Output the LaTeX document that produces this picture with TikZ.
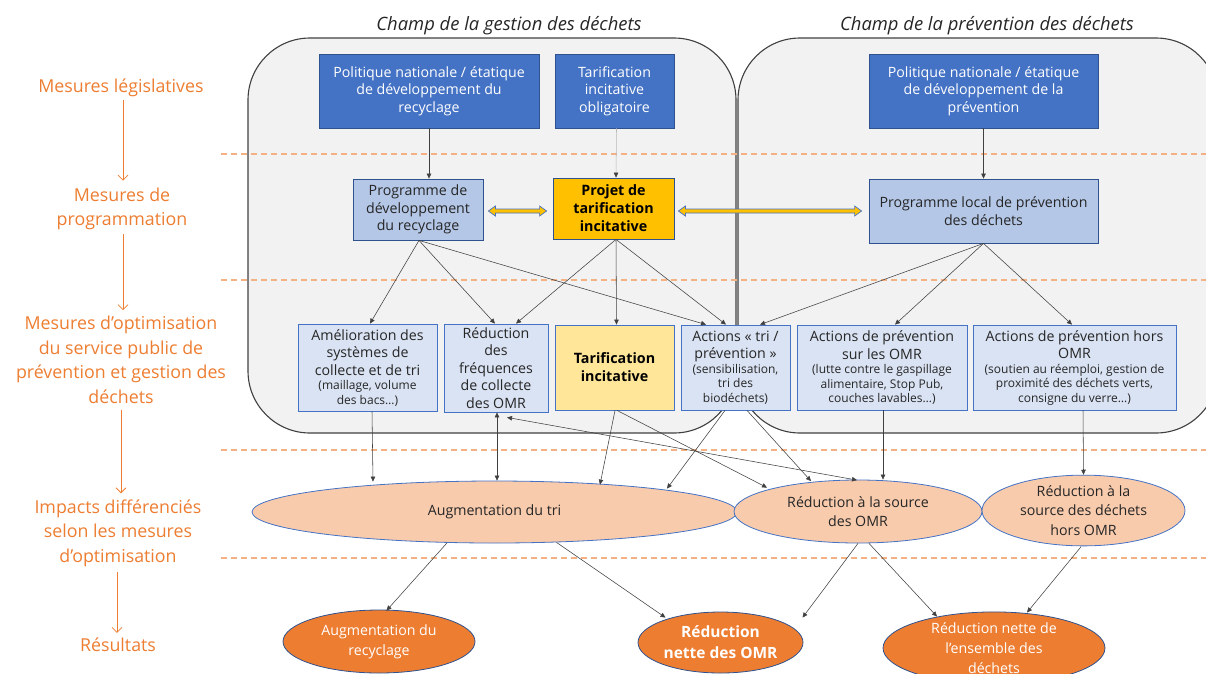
\documentclass[tikz,border=0pt]{standalone}
\usepackage{fontspec}
\setmainfont{Open Sans}
\usetikzlibrary{arrows.meta,calc,shapes.geometric}

\definecolor{dkblue}{HTML}{4472C4}
\definecolor{dkblueline}{HTML}{2F528F}
\definecolor{midblue}{HTML}{B4C7E7}
\definecolor{ltblue}{HTML}{DAE3F3}
\definecolor{gold}{HTML}{FFC000}
\definecolor{ltgold}{HTML}{FFE699}
\definecolor{peach}{HTML}{F8CBAD}
\definecolor{orng}{HTML}{ED7D31}
\definecolor{dashorng}{HTML}{F4B183}
\definecolor{panel}{HTML}{F2F2F2}
\definecolor{ink}{HTML}{262626}
\definecolor{wire}{HTML}{404040}

\newcommand\sm{\fontsize{12}{14.5}\selectfont}

\tikzset{
  box/.style={rectangle, inner sep=0pt, align=center, text=ink,
    font=\fontsize{14.2}{17.5}\selectfont, line width=0.8pt},
  policy/.style={box, fill=dkblue, draw=dkblueline, text=white},
  plan/.style={box, fill=midblue, draw=dkblueline},
  keyplan/.style={box, fill=gold, draw=dkblueline,
    font=\fontsize{14.3}{18}\selectfont\bfseries, text=black},
  action/.style={box, fill=ltblue, draw=dkblue},
  keyaction/.style={box, fill=ltgold, draw=dkblue,
    font=\fontsize{14.3}{18}\selectfont\bfseries, text=black},
  impact/.style={ellipse, inner sep=0pt, fill=peach, draw=dkblue,
    line width=0.8pt, align=center, text=ink, font=\fontsize{14.2}{19.5}\selectfont},
  result/.style={ellipse, inner sep=0pt, fill=orng, draw=dkblueline,
    line width=0.8pt, align=center, text=white, font=\fontsize{14.2}{20}\selectfont},
  lvl/.style={inner sep=0pt, text=orng, align=center, font=\fontsize{17.8}{24.5}\selectfont},
  fieldtitle/.style={inner sep=0pt, text=ink, font=\fontsize{18.4}{20}\selectfont\itshape},
  tip/.style={-{Triangle[length=5pt,width=4.5pt,color=wire]}},
  link/.style={draw=wire, line width=0.55pt, tip},
  dlink/.style={draw=wire, line width=0.55pt, {Triangle[length=5pt,width=4.5pt]}-{Triangle[length=5pt,width=4.5pt]}},
  lvlarrow/.style={draw=orng, line width=0.8pt, -{Straight Barb[length=5pt,width=10pt]}},
  sep/.style={draw=dashorng, line width=1.1pt, dash pattern=on 6pt off 4pt},
  field/.style={fill=panel, draw=wire, line width=1.1pt, rounded corners=62pt},
  yarrow/.style={fill=gold, draw=dkblue, line width=0.7pt, line join=miter},
}

\begin{document}
\begin{tikzpicture}[x=1pt, y=-1pt]
\useasboundingbox (0,0) rectangle (1206,673);
\clip (0,0) rectangle (1206,673);

% the two fields
\path[field] (248,38) rectangle (736,433);
\path[field] (738,38) rectangle (1218,433);
\node[fieldtitle] (t1) at (509,25.5) {Champ de la gestion des déchets};
\node[fieldtitle] (t2) at (987,25.5) {Champ de la prévention des déchets};

% level separators
\foreach \yy in {154,280,450,558}
  \draw[sep] (221,\yy) -- (1206,\yy);

% level labels
\node[lvl] (leg) at (121,88) {Mesures législatives};
\node[lvl] (prog) at (122,209) {Mesures de\\programmation};
\node[lvl] (opt) at (121,360) {Mesures d’optimisation\\du service public de\\prévention et gestion des\\déchets};
\node[lvl] (imp) at (118,533) {Impacts différenciés\\selon les mesures\\d’optimisation};
\node[lvl] (res) at (118,645) {Résultats};

\draw[lvlarrow] ([xshift=2,yshift=-3]leg.south) -- ([xshift=1,yshift=7]prog.north);
\draw[lvlarrow] ([xshift=1,yshift=-4]prog.south) -- ([xshift=2,yshift=6]opt.north);
\draw[lvlarrow] ([yshift=-6]opt.south) -- ([xshift=3,yshift=6]imp.north);
\draw[lvlarrow] ([xshift=-1,yshift=-5]imp.south) -- ([xshift=-1,yshift=5]res.north);

% legislative measures
\node[policy, minimum width=220, minimum height=74] (polrec) at (429,91)
  {Politique nationale / étatique\\de développement du\\recyclage};
\node[policy, minimum width=119, minimum height=74] (tarob) at (614.5,91)
  {Tarification\\incitative\\obligatoire};
\node[policy, minimum width=229, minimum height=74] (polprev) at (983.5,91)
  {Politique nationale / étatique\\de développement de la\\prévention};

% programming measures
\node[plan, minimum width=130, minimum height=61] (progrec) at (418,209.5)
  {Programme de\\développement\\du recyclage};
\node[keyplan, minimum width=121, minimum height=61] (projet) at (613.5,208.5)
  {Projet de\\tarification\\incitative};
\node[plan, minimum width=229, minimum height=64] (progloc) at (983.5,211)
  {Programme local de prévention\\des déchets};

% optimisation measures
\node[action, minimum width=139, minimum height=87] (amel) at (367.5,367.5)
  {Amélioration des\\systèmes de\\collecte et de tri\\[-3pt]\sm (maillage, volume\\[-3pt]\sm des bacs…)};
\node[action, minimum width=104, minimum height=88] (redfreq) at (496,368)
  {Réduction\\des\\fréquences\\de collecte\\des OMR};
\node[keyaction, minimum width=119, minimum height=85] (ti) at (614.5,367.5)
  {Tarification\\incitative};
\node[action, minimum width=109, minimum height=85] (acttri) at (735.5,367.5)
  {Actions « tri /\\prévention »\\[-3pt]\sm (sensibilisation,\\[-3pt]\sm tri des\\[-3pt]\sm biodéchets)};
\node[action, minimum width=170, minimum height=85] (actomr) at (882,367.5)
  {Actions de prévention\\sur les OMR\\[-3pt]\sm (lutte contre le gaspillage\\[-3pt]\sm alimentaire, Stop Pub,\\[-3pt]\sm couches lavables…)};
\node[action, minimum width=203, minimum height=85] (acthors) at (1074.5,367.5)
  {Actions de prévention hors\\OMR\\[-3pt]\sm (soutien au réemploi, gestion de\\[-3pt]\sm proximité des déchets verts,\\[-3pt]\sm consigne du verre…)};

% impacts
\node[impact, minimum width=485, minimum height=62] (augtri) at (494.5,512) {Augmentation du tri};
\node[impact, minimum width=248, minimum height=63] (redomr) at (858,511.5) {Réduction à la source\\des OMR};
\node[impact, minimum width=203, minimum height=61] (redhors) at (1083.5,510.5) {Réduction à la\\source des déchets\\hors OMR};

% results
\node[result, minimum width=192, minimum height=63] (augrec) at (379,641.5) {Augmentation du\\recyclage};
\node[result, minimum width=165, minimum height=61, font=\fontsize{15.5}{21}\selectfont\bfseries] (rednet) at (720.5,642.5) {Réduction\\nette des OMR};
\node[result, minimum width=222, minimum height=64] (redens) at (994,648) {Réduction nette de\\l’ensemble des\\déchets};

% legislative -> programming
\draw[link] (polrec.south) -- (polrec.south |- progrec.north);
\draw[link, draw=gray!55] ([xshift=2]tarob.south) -- ([xshift=2.5]projet.north);
\draw[link] (polprev.south) -- (progloc.north);

% programming <-> programming
\coordinate (ya) at ([xshift=5,yshift=-1.5]progrec.east);
\coordinate (yb) at ([xshift=-6,yshift=-2.5]projet.west);
\coordinate (yc) at ([xshift=4,yshift=-2.5]projet.east);
\coordinate (yd) at ([xshift=-7,yshift=0]progloc.west);
\path[yarrow] (ya) -- ++(7,-5) -- ++(0,3) -- ($(yb)+(-7,-2)$) -- ++(0,-3) -- (yb)
  -- ++(-7,5) -- ++(0,-3) -- ($(ya)+(7,2)$) -- ++(0,3) -- cycle;
\path[yarrow] (yc) -- ++(7,-5) -- ++(0,3) -- ($(yd)+(-7,-2)$) -- ++(0,-3) -- (yd)
  -- ++(-7,5) -- ++(0,-3) -- ($(yc)+(7,2)$) -- ++(0,3) -- cycle;

% programming -> optimisation
\draw[link] ([xshift=1]progrec.south) -- ([xshift=2.5]amel.north);
\draw[link] ([xshift=1]progrec.south) -- ([xshift=-1]redfreq.north);
\draw[link] ([xshift=1]progrec.south) -- ([xshift=-29.5]acttri.north);
\draw[link] ([xshift=2.5]projet.south) -- ([xshift=20]redfreq.north);
\draw[link] ([xshift=2.5]projet.south) -- ([xshift=2]ti.north);
\draw[link] ([xshift=2.5]projet.south) -- ([xshift=-9.5]acttri.north);
\draw[link] (progloc.south) -- ([xshift=24.5]acttri.north);
\draw[link] (progloc.south) -- ([xshift=13]actomr.north);
\draw[link] (progloc.south) -- ([xshift=-2.5]acthors.north);

% optimisation -> impacts
\draw[link] ([xshift=4.5]amel.south) -- ([xshift=-121.5,yshift=-1]augtri.north);
\draw[dlink] ([xshift=1]redfreq.south) -- ([xshift=2.5]augtri.north);
\draw[dlink] ([xshift=11,yshift=-5]redfreq.south) -- ([xshift=-1,yshift=-0.5]redomr.north);
\draw[link] ([xshift=0.5]ti.south) -- ([xshift=105.5,yshift=-4]augtri.north);
\draw[link] ([xshift=2.5]ti.south) -- ([xshift=-91,yshift=-8]redomr.north);
\draw[link] ([xshift=-10.5]acttri.south) -- ([xshift=172.5,yshift=-8]augtri.north);
\draw[link] ([xshift=11.5]acttri.south) -- ([xshift=-47,yshift=-1.5]redomr.north);
\draw[link] ([xshift=1]actomr.south) -- ([xshift=25,yshift=0]redomr.north);
\draw[link] ([xshift=8.5]acthors.south) -- (redhors.north);

% impacts -> results
\draw[link] ([xshift=-47.5,yshift=0.5]augtri.south) -- ([xshift=7.5,yshift=-1]augrec.north);
\draw[link] ([xshift=62,yshift=1]augtri.south) -- ([xshift=-55,yshift=-6]rednet.north);
\draw[link] ([xshift=0]redomr.south) -- ([xshift=82,yshift=-6]rednet.north);
\draw[link] ([xshift=11]redomr.south) -- ([xshift=-57,yshift=-5]redens.north);
\draw[link] ([xshift=-2.5,yshift=-0.5]redhors.south) -- ([xshift=33,yshift=-1]redens.north);
\end{tikzpicture}
\end{document}
